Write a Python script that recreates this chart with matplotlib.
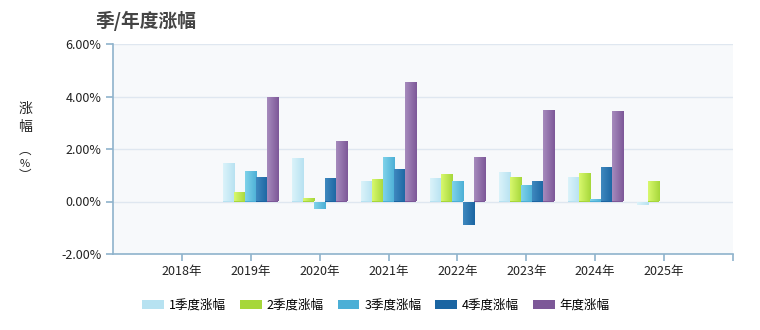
import matplotlib
matplotlib.use("Agg")
import matplotlib.pyplot as plt
import numpy as np
from matplotlib.colors import LinearSegmentedColormap
from matplotlib.patches import Patch

plt.rcParams["font.family"] = ["Noto Sans CJK SC", "DejaVu Sans"]

YEARS = ["2018年", "2019年", "2020年", "2021年", "2022年", "2023年", "2024年", "2025年"]
SERIES = ["1季度涨幅", "2季度涨幅", "3季度涨幅", "4季度涨幅", "年度涨幅"]
Q1 = [np.nan, 1.45, 1.64, 0.80, 0.88, 1.14, 0.93, -0.15]
Q2 = [np.nan, 0.38, 0.15, 0.84, 1.03, 0.93, 1.10, 0.80]
Q3 = [np.nan, 1.18, -0.30, 1.68, 0.80, 0.61, 0.08, np.nan]
Q4 = [np.nan, 0.95, 0.88, 1.22, -0.91, 0.80, 1.30, np.nan]
YEAR = [np.nan, 4.00, 2.32, 4.57, 1.71, 3.47, 3.43, np.nan]

# left / right colour of each horizontal gradient
GRADIENTS = [
    ("#dbf3fa", "#b7e2f1"),
    ("#d8f86e", "#a6d73a"),
    ("#7fd3ea", "#4cafd6"),
    ("#3f89bf", "#1b65a2"),
    ("#a68bbd", "#7d5898"),
]

fig = plt.figure(figsize=(7.6, 3.3), dpi=100)
ax = fig.add_axes([113 / 760, 76 / 330, 620 / 760, 210 / 330])
ax.set_facecolor("#f7f9fb")

x = np.arange(1, len(YEARS) + 1)
width = 0.16
for i, (vals, (c0, c1)) in enumerate(zip([Q1, Q2, Q3, Q4, YEAR], GRADIENTS)):
    offs = (i - 2) * width
    bars = ax.bar(x + offs, vals, width, color=c1, linewidth=0, zorder=3)
    cmap = LinearSegmentedColormap.from_list(f"g{i}", [c0, c1])
    grad = np.linspace(0, 1, 64).reshape(1, -1)
    for b in bars:
        h = b.get_height()
        if np.isnan(h) or h == 0:
            continue
        x0 = b.get_x()
        y0, y1 = sorted([0, h])
        im = ax.imshow(grad, cmap=cmap, aspect="auto", extent=(x0, x0 + width, y0, y1),
                       zorder=4, interpolation="bilinear")
        im.set_clip_path(b)

ax.set_xlim(0, 9)
ax.set_ylim(-2, 6)
ax.set_xticks(np.arange(1, 10))
ax.set_xticklabels(YEARS + [""], fontsize=9, color="#222222")
yt = [-2, 0, 2, 4, 6]
ax.set_yticks(yt)
ax.set_yticklabels([f"{v:.2f}%" for v in yt], fontsize=9, color="#222222")
ax.grid(axis="y", color="#dfe7f0", linewidth=1, zorder=1)
ax.set_axisbelow(True)
for s in ["top", "right"]:
    ax.spines[s].set_visible(False)
for s in ["left", "bottom"]:
    ax.spines[s].set_color("#8fb3cc")
    ax.spines[s].set_linewidth(1.2)
ax.tick_params(axis="both", colors="#8fb3cc", labelcolor="#222222", length=5, width=1.2)
ax.tick_params(axis="x", pad=3)

fig.text(95 / 760, 1 - 21 / 330, "季/年度涨幅", fontsize=13.5, fontweight="bold",
         color="#444444", ha="left", va="center")
# vertical axis title, one character per line
for ch, ypx, fs in [("涨", 109, 10), ("幅", 127, 10), ("︵", 150, 9),
                    ("%", 164, 8), ("︶", 176, 9)]:
    fig.text(25 / 760, 1 - ypx / 330, ch, fontsize=fs, color="#222222",
             ha="center", va="center")

handles = [Patch(facecolor=c1, edgecolor="none") for _, c1 in GRADIENTS]
fig.legend(handles, SERIES, loc="center", bbox_to_anchor=(376 / 760, 1 - 305 / 330),
           ncol=5, frameon=False, fontsize=9, handlelength=1.75, handleheight=0.75,
           columnspacing=1.1, handletextpad=0.4)

fig.savefig("out.png", dpi=100, facecolor="white")
